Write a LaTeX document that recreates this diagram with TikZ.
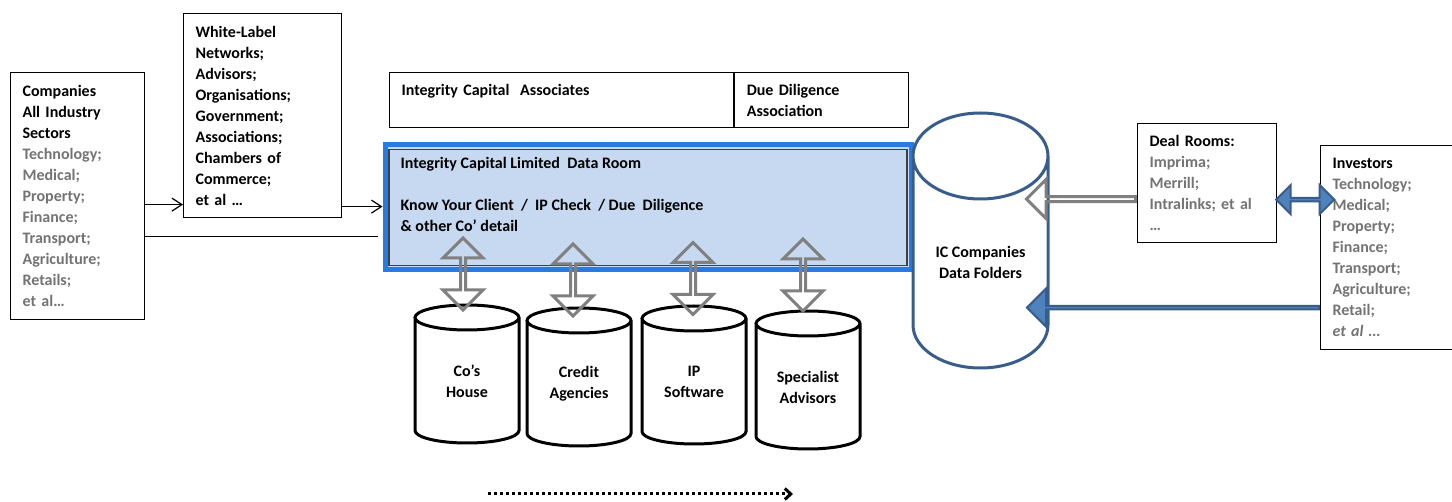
\documentclass[tikz,border=0pt]{standalone}
\usepackage{fontspec}
\setmainfont{Carlito}
\usetikzlibrary{shapes.arrows, calc, arrows.meta}

\definecolor{txtgray}{RGB}{115,115,115}
\definecolor{roomfill}{RGB}{198,217,241}
\definecolor{roomblue}{RGB}{42,122,224}
\definecolor{linkgray}{RGB}{128,128,128}
\definecolor{icblue}{RGB}{56,93,138}
\definecolor{arrowblue}{RGB}{79,129,189}

% Trommel um einen Knoten: Name, x-Radius, y-Radius
\newcommand\drumpath[3]{($(#1.north west) + (0, #3)$) -- ($(#1.south west) + (0, -#3)$) arc [start angle = 180, end angle = 360, x radius = #2pt, y radius = #3pt] -- ($(#1.north east) + (0, #3)$) arc [start angle = 0, end angle = 180, x radius = #2pt, y radius = #3pt] arc [start angle = 180, end angle = 360, x radius = #2pt, y radius = #3pt]}

\tikzset{
	listbox/.style = {draw, line width = 1.2pt, anchor = north west, align = left, inner xsep = 12pt, inner ysep = 0pt},
	drum/.style = {minimum width = 104pt, minimum height = 138pt, inner sep = 0pt, outer sep = 0pt},
	drumline/.style = {line width = 3pt, fill = white},
	drumtext/.style = {align = center, inner sep = 0pt},
	link/.style = {double arrow, rotate = 90, draw = linkgray, line width = 3pt, minimum height = 72pt, minimum width = 40pt, double arrow head extend = 10.5pt, inner sep = 0pt},
	thinline/.style = {line width = 1.2pt},
	barb/.style = {-{Straight Barb[length = 10pt, width = 13pt]}}
}

\begin{document}
\begin{tikzpicture}[x = 1pt, y = -1pt, font = \bfseries\fontsize{16}{21}\selectfont]
	\useasboundingbox (0, 0) rectangle (1452, 502);

	% Quellen:
	\node [listbox, text width = 110pt, minimum height = 247pt] (companies) at (10, 72) {Companies\\All Industry\\Sectors\\{\color{txtgray}Technology;\\Medical;\\Property;\\Finance;\\Transport;\\Agriculture;\\Retails;\\et al…}};
	\node [listbox, text width = 134pt, minimum height = 204pt] (whitelabel) at (183, 13) {White-Label\\Networks;\\Advisors;\\Organisations;\\Government;\\Associations;\\Chambers of\\Commerce;\\et al …};

	% Kopfzeile:
	\node [listbox, text width = 320pt, minimum height = 55pt] (icassoc) at (389, 72) {Integrity Capital\ \ Associates\\\mbox{}};
	\node [listbox, text width = 150pt, minimum height = 55pt] (ddassoc) at (icassoc.north east) {Due Diligence\\Association};

	% Data Room:
	\node [draw = roomblue, fill = roomfill, line width = 5pt, minimum width = 526pt, minimum height = 125pt] (roomframe) at (648, 207.5) {};
	\node [draw = darkgray, thinline, minimum width = 518pt, minimum height = 116pt] (dataroom) at (roomframe.center) {};
	\node [anchor = north west, align = left, inner sep = 0pt] (roomtext) at ($(dataroom.north west) + (12, 8)$) {Integrity Capital Limited\ \ Data Room\\[21pt]Know Your Client\ \ /\ \ IP Check\ \ / Due\ \ Diligence\\\& other Co’ detail};

	% Verbindungen links:
	\draw [thinline, barb] ($(companies.east) + (0, 8.5)$) coordinate (c1) -- (c1 -| whitelabel.west);
	\draw [thinline, shorten > = 5pt] ($(companies.east) + (0, 40.5)$) coordinate (c2) -- (c2 -| roomframe.west);
	\draw [thinline, barb] ($(whitelabel.east) + (0, 91)$) coordinate (w1) -- (w1 -| roomframe.west);

	% Datenquellen:
	\node [drum] (cohouse) at (467, 374) {};
	\node [drum] (credit) at (579, 377) {};
	\node [drum] (ipsoft) at (694, 375) {};
	\node [drum] (specialist) at (808, 380) {};
	\foreach \n in {cohouse, credit, ipsoft, specialist} {
		\draw [drumline] \drumpath{\n}{52}{12.5};
	}
	\node [drumtext] (cohouse-t) at ($(cohouse.center) + (0, 7)$) {Co’s\\House};
	\node [drumtext] (credit-t) at ($(credit.center) + (0, 7)$) {Credit\\Agencies};
	\node [drumtext] (ipsoft-t) at ($(ipsoft.center) + (0, 7)$) {IP\\Software};
	\node [drumtext] (specialist-t) at ($(specialist.center) + (0, 7)$) {Specialist\\Advisors};

	\node [link] (link1) at ($(cohouse.north) + (-4, -31)$) {};
	\node [link] (link2) at ($(credit.north) + (-6, -28)$) {};
	\node [link] (link3) at ($(ipsoft.north) + (-1, -27.5)$) {};
	\node [link] (link4) at ($(specialist.north) + (-5, -36)$) {};

	% rechts:
	\node [drum, minimum width = 135pt, minimum height = 255pt] (icdata) at (980.5, 240.5) {};
	\draw [drumline, draw = icblue] \drumpath{icdata}{67.5}{43};
	\node [drumtext] (icdata-t) at ($(icdata.center) + (0, 22)$) {IC Companies\\Data Folders};
	\node [listbox, text width = 115pt, minimum height = 119pt] (dealrooms) at (1137, 123) {Deal Rooms:\\{\color{txtgray}Imprima;\\Merrill;\\Intralinks; et al\\…}};
	\node [listbox, text width = 116pt, minimum height = 204pt] (investors) at (1320, 145) {Investors\\{\color{txtgray}Technology;\\Medical;\\Property;\\Finance;\\Transport;\\Agriculture;\\Retail;\\\textit{et al …}}};

	\node [single arrow, shape border rotate = 180, draw = linkgray, line width = 3pt, minimum height = 109pt, minimum width = 39pt, single arrow head extend = 10pt, inner sep = 0pt, anchor = tail] (dealin) at ($(dealrooms.west) + (0, 16)$) {};
	\node [single arrow, shape border rotate = 180, fill = arrowblue, draw = icblue, line width = 2pt, minimum height = 292pt, minimum width = 38pt, single arrow head extend = 10.5pt, inner sep = 0pt, anchor = tail] (investin) at ($(investors.west) + (0, 60)$) {};
	\node [double arrow, fill = arrowblue, draw = icblue, line width = 2pt, minimum height = 58pt, minimum width = 29pt, double arrow head extend = 7.5pt, inner sep = 0pt] (dealinvest) at ($(dealrooms.east) + (28, 16.5)$) {};

	% Ablauf:
	\coordinate (flowstart) at (488, 494);
	\coordinate (flowend) at (793, 494);
	\draw [line width = 3pt, dash pattern = on 3pt off 3pt, -{Straight Barb[length = 6pt, width = 11pt]}] (flowstart) -- (flowend);
\end{tikzpicture}
\end{document}
